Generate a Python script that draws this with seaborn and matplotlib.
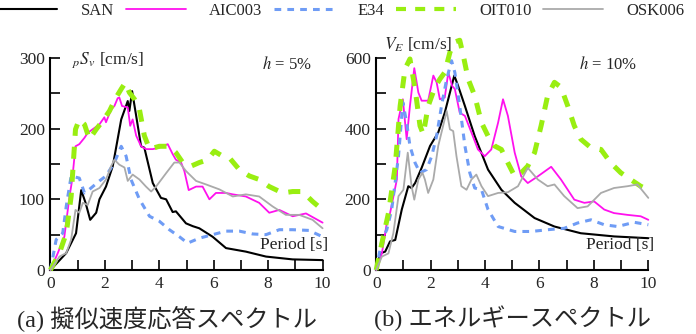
import matplotlib
matplotlib.use("Agg")
import matplotlib.pyplot as plt
import pandas as pd
import seaborn as sns
from matplotlib.lines import Line2D
from matplotlib.ticker import MultipleLocator

sns.set_theme(style="white")
plt.rcParams["font.family"] = ["Liberation Serif", "Noto Sans CJK JP"]
plt.rcParams["mathtext.fontset"] = "stix"

NAMES = ["SAN", "AIC003", "E34", "OIT010", "OSK006"]

# (a) pseudo velocity response spectra, h = 5%
san_psv_t = [0, 0.58, 0.94, 1.13, 1.29, 1.46, 1.68, 1.8, 2.04, 2.29, 2.6, 2.84, 2.9, 3.0, 3.15, 3.33,
             3.45, 3.76, 4.06, 4.25, 4.49, 4.61, 4.98, 5.23, 5.47, 5.96, 6.45, 7.18, 7.92, 8.9, 10]
san_psv_v = [0, 24, 52, 113, 95, 71, 81, 100, 118, 147, 213, 239, 225, 253, 218, 175,
             173, 123, 102, 100, 82, 83, 66, 62, 59, 47, 31, 26, 19, 15, 14]

aic_psv_t = [0, 0.27, 0.51, 0.7, 0.8, 0.92, 1.06, 1.25, 1.37, 1.62, 1.8, 1.98, 2.04, 2.23, 2.35, 2.47,
             2.53, 2.63, 2.84, 2.93, 3.02, 3.15, 3.33, 3.51, 3.76, 4.0, 4.31, 4.49, 4.61, 4.8, 4.92,
             5.08, 5.35, 5.59, 5.84, 6.08, 6.45, 6.7, 7.18, 7.67, 8.04, 8.41, 8.9, 9.39, 10]
aic_psv_v = [0, 24, 47, 104, 128, 175, 178, 187, 194, 201, 206, 216, 209, 227, 232, 243,
             244, 232, 230, 204, 213, 190, 175, 171, 171, 173, 178, 164, 156, 152, 140,
             113, 118, 118, 100, 109, 109, 107, 104, 95, 81, 85, 76, 80, 67]

e34_psv_t = [0, 0.21, 0.45, 0.58, 0.76, 1.06, 1.25, 1.43, 1.8, 2.04, 2.35, 2.6, 2.78, 2.96, 3.27,
             3.64, 4.0, 4.37, 4.74, 5.04, 5.47, 5.96, 6.45, 6.94, 7.43, 7.92, 8.41, 8.9, 9.5, 10]
e34_psv_v = [0, 43, 52, 90, 133, 130, 109, 114, 126, 133, 152, 175, 161, 128, 100,
             76, 69, 57, 47, 38, 45, 50, 55, 55, 51, 50, 57, 57, 56, 47]

oit_psv_t = [0, 0.33, 0.58, 0.76, 0.92, 1.06, 1.25, 1.43, 1.68, 1.92, 2.17, 2.41, 2.6, 2.75, 2.9,
             3.08, 3.27, 3.45, 3.64, 4.0, 4.37, 4.61, 4.86, 5.17, 5.47, 5.78, 6.02, 6.33, 6.57,
             6.94, 7.31, 7.67, 8.04, 8.53, 8.9, 9.26, 9.63, 10]
oit_psv_v = [0, 24, 52, 104, 199, 213, 206, 185, 199, 211, 225, 244, 256, 265, 251,
             242, 227, 190, 171, 175, 175, 166, 152, 147, 152, 156, 168, 161, 159,
             142, 133, 128, 118, 109, 111, 111, 97, 85]

osk_psv_t = [0, 0.33, 0.58, 0.76, 0.92, 1.06, 1.19, 1.37, 1.55, 1.8, 2.04, 2.23, 2.35, 2.53, 2.72,
             2.84, 3.02, 3.27, 3.51, 3.7, 3.88, 4.25, 4.55, 4.74, 4.98, 5.35, 5.72, 6.21, 6.7,
             7.18, 7.67, 8.16, 8.65, 9.14, 9.63, 10]
osk_psv_v = [0, 19, 24, 43, 85, 81, 95, 92, 111, 116, 128, 147, 156, 149, 145,
             126, 135, 128, 118, 111, 118, 137, 152, 152, 140, 126, 121, 114, 104,
             107, 104, 90, 78, 78, 71, 59]

# (b) energy spectra, h = 10%
san_ve_t = [0, 0.15, 0.33, 0.51, 0.7, 0.94, 1.18, 1.3, 1.43, 1.67, 1.98, 2.28, 2.52, 2.71, 2.87,
            3.01, 3.26, 3.62, 4.11, 4.6, 5.09, 5.82, 6.55, 7.52, 8.74, 10]
san_ve_v = [0, 47, 52, 81, 85, 171, 237, 232, 246, 289, 351, 389, 445, 502, 550,
            521, 464, 379, 284, 227, 190, 147, 123, 104, 95, 90]

aic_ve_t = [0, 0.21, 0.39, 0.51, 0.76, 0.82, 0.98, 1.12, 1.24, 1.4, 1.55, 1.67, 1.91, 2.1, 2.22,
            2.34, 2.52, 2.65, 2.79, 2.89, 3.07, 3.26, 3.5, 3.74, 3.99, 4.23, 4.48, 4.66, 4.84,
            5.09, 5.33, 5.57, 5.94, 6.43, 6.79, 7.28, 7.65, 8.01, 8.38, 8.74, 9.23, 9.72, 10]
aic_ve_v = [0, 47, 133, 161, 256, 427, 483, 370, 464, 571, 502, 479, 479, 550, 531,
            483, 488, 559, 521, 512, 445, 436, 389, 341, 322, 341, 417, 483, 436,
            332, 265, 246, 265, 292, 256, 199, 190, 194, 171, 161, 156, 152, 142]

e34_ve_t = [0, 0.21, 0.39, 0.57, 0.82, 0.98, 1.12, 1.24, 1.43, 1.61, 1.85, 2.04, 2.22, 2.4, 2.59,
            2.77, 2.89, 3.07, 3.26, 3.44, 3.62, 3.87, 4.11, 4.48, 5.09, 5.7, 6.3, 6.91, 7.4,
            7.89, 8.38, 8.87, 9.48, 10]
e34_ve_v = [0, 85, 114, 171, 322, 474, 417, 351, 303, 275, 284, 322, 379, 464, 540,
            592, 559, 464, 351, 275, 232, 227, 171, 123, 109, 109, 114, 118, 133,
            142, 128, 123, 135, 128]

oit_ve_t = [0, 0.21, 0.45, 0.7, 0.88, 1.06, 1.24, 1.43, 1.61, 1.73, 1.91, 2.16, 2.34, 2.52, 2.71,
            2.89, 3.07, 3.2, 3.38, 3.62, 3.87, 4.11, 4.35, 4.6, 4.84, 5.09, 5.33, 5.57, 5.82,
            6.06, 6.3, 6.55, 6.79, 7.04, 7.28, 7.52, 7.89, 8.26, 8.62, 8.99, 9.35, 9.72, 10]
oit_ve_v = [0, 76, 161, 294, 464, 569, 597, 512, 408, 384, 464, 517, 540, 559, 616,
            645, 650, 607, 540, 493, 417, 379, 351, 341, 303, 265, 275, 294, 332,
            408, 493, 531, 517, 464, 408, 370, 346, 341, 303, 275, 256, 237, 227]

osk_ve_t = [0, 0.21, 0.45, 0.63, 0.82, 1.0, 1.16, 1.3, 1.4, 1.55, 1.7, 1.79, 1.91, 2.1, 2.28,
            2.46, 2.59, 2.71, 2.83, 2.95, 3.13, 3.32, 3.5, 3.68, 3.87, 4.11, 4.48, 4.84, 5.21,
            5.57, 5.94, 6.3, 6.55, 6.91, 7.4, 7.77, 8.26, 8.74, 9.23, 9.6, 10]
osk_ve_v = [0, 38, 47, 104, 209, 227, 332, 237, 199, 256, 275, 256, 218, 256, 351,
            408, 450, 398, 393, 322, 237, 227, 256, 270, 237, 209, 218, 220, 237,
            289, 256, 237, 242, 209, 175, 180, 218, 232, 237, 242, 204]

STYLES = {
    "SAN": dict(color="black", lw=1.5, dashes=None),
    "AIC003": dict(color="#ff11ee", lw=1.3, dashes=None),
    "E34": dict(color="#6f9cf5", lw=2.2, dashes=(2.2, 2.0)),
    "OIT010": dict(color="#99ee11", lw=3.6, dashes=(2.4, 2.2)),
    "OSK006": dict(color="#aaaaaa", lw=1.3, dashes=None),
}
SERIF = "Liberation Serif"


def long_frame(series):
    frames = []
    for name, (t, v) in zip(NAMES, series):
        frames.append(pd.DataFrame({"T": t, "V": v, "name": name}))
    return pd.concat(frames, ignore_index=True)


def draw_panel(ax, df, ymax, ystep):
    for name in NAMES:
        st = STYLES[name]
        sub = df[df["name"] == name]
        sns.lineplot(data=sub, x="T", y="V", ax=ax, color=st["color"], lw=st["lw"],
                     sort=False, estimator=None, clip_on=False, zorder=3)
        if st["dashes"] is not None:
            ax.lines[-1].set_dashes(st["dashes"])
    ax.set_xlim(0, 10)
    ax.set_ylim(0, ymax)
    ax.set_xlabel("")
    ax.set_ylabel("")
    ax.xaxis.set_major_locator(MultipleLocator(2))
    ax.xaxis.set_minor_locator(MultipleLocator(1))
    ax.yaxis.set_major_locator(MultipleLocator(ystep))
    ax.yaxis.set_minor_locator(MultipleLocator(ystep / 2))
    ax.tick_params(which="both", direction="in", length=7, width=1.2, color="black",
                   labelsize=12.5, bottom=True, left=True, pad=4, labelfontfamily=SERIF)
    for s in ["top", "right"]:
        ax.spines[s].set_visible(False)
    for s in ["left", "bottom"]:
        ax.spines[s].set_color("black")
        ax.spines[s].set_linewidth(1.5)
    ax.text(10.2, 0.12 * ymax, "Period [s]", ha="right", va="center", fontsize=12.5,
            family=SERIF)


fig = plt.figure(figsize=(6.96, 3.34), dpi=100)
ax1 = fig.add_axes([0.0725, 0.1916, 0.391, 0.635])
ax2 = fig.add_axes([0.5405, 0.1916, 0.391, 0.635])

psv = long_frame([(san_psv_t, san_psv_v), (aic_psv_t, aic_psv_v), (e34_psv_t, e34_psv_v),
                  (oit_psv_t, oit_psv_v), (osk_psv_t, osk_psv_v)])
ve = long_frame([(san_ve_t, san_ve_v), (aic_ve_t, aic_ve_v), (e34_ve_t, e34_ve_v),
                 (oit_ve_t, oit_ve_v), (osk_ve_t, osk_ve_v)])

draw_panel(ax1, psv, 300, 100)
draw_panel(ax2, ve, 600, 200)

ax1.text(0.08, 0.99, r"$_{p}S_{v}$ [cm/s]", transform=ax1.transAxes, ha="left", va="center",
         fontsize=12.5, family=SERIF)
ax1.text(0.96, 0.97, r"$h$ = 5%", transform=ax1.transAxes, ha="right", va="center",
         fontsize=12, family=SERIF)
ax2.text(0.03, 1.06, r"$V_E$ [cm/s]", transform=ax2.transAxes, ha="left", va="center",
         fontsize=12.5, family=SERIF)
ax2.text(0.96, 0.97, r"$h$ = 10%", transform=ax2.transAxes, ha="right", va="center",
         fontsize=12, family=SERIF)

handles = []
for name in NAMES:
    st = STYLES[name]
    h = Line2D([], [], color=st["color"], lw=st["lw"] if name != "OIT010" else 3.0)
    if st["dashes"] is not None:
        h.set_dashes(st["dashes"])
    handles.append(h)
fig.legend(handles, NAMES, loc="upper center", bbox_to_anchor=(0.49, 1.035), ncol=5,
           frameon=False, prop={"family": SERIF, "size": 12}, handlelength=3.6,
           handletextpad=1.4, columnspacing=0.7)

fig.text(0.024, 0.048, "(a) 擬似速度応答スペクトル", ha="left", va="center", fontsize=17.5)
fig.text(0.537, 0.048, "(b) エネルギースペクトル", ha="left", va="center", fontsize=17.5)

fig.savefig("out.png", dpi=100)
plt.close(fig)
